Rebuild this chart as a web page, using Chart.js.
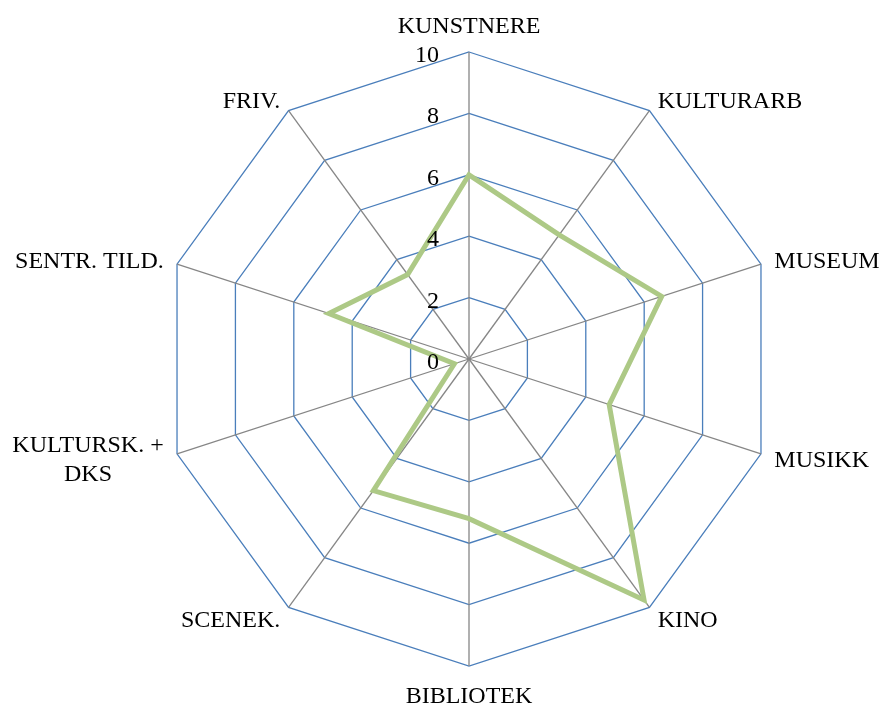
<!DOCTYPE html>
<html>
<head>
<meta charset="utf-8">
<script src="https://cdn.jsdelivr.net/npm/chart.js@4/dist/chart.umd.min.js"></script>
<style>
html,body{margin:0;padding:0;background:#ffffff;}
#wrap{width:880px;height:705px;position:relative;}
</style>
</head>
<body>
<div id="wrap"><canvas id="c"></canvas></div>
<script>
// ---- data ----
const categories = [
  'KUNSTNERE',
  'KULTURARB',
  'MUSEUM',
  'MUSIKK',
  'KINO',
  'BIBLIOTEK',
  'SCENEK.',
  ['KULTURSK. +', 'DKS'],
  'SENTR. TILD.',
  'FRIV.'
];
const seriesValues = [6, 5, 6.6, 4.8, 9.7, 5.2, 5.3, 0.5, 4.8, 3.4];
const tickValues = [0, 2, 4, 6, 8, 10];

// ---- label drawing (uses the radial scale's own geometry) ----
const FONT = '24px "Liberation Serif", "Times New Roman", serif';
const labelPlugin = {
  id: 'radarLabels',
  afterDatasetsDraw(chart) {
    const s = chart.scales.r;
    const ctx = chart.ctx;
    ctx.save();
    ctx.fillStyle = '#000000';
    ctx.font = FONT;
    ctx.textBaseline = 'alphabetic';

    // tick labels, right-aligned left of the vertical axis
    ctx.textAlign = 'right';
    tickValues.forEach(v => {
      const d = s.getDistanceFromCenterForValue(v);
      ctx.fillText(String(v), s.xCenter - 30, s.yCenter - d + 10);
    });

    // category labels
    const R = s.drawingArea;
    const lh = 29;
    categories.forEach((lab, i) => {
      const lines = Array.isArray(lab) ? lab : [lab];
      const p = s.getPointPosition(i, R + 14);
      const c = Math.cos(p.angle), sn = Math.sin(p.angle);
      const widths = lines.map(t => ctx.measureText(t).width);
      const maxW = Math.max(...widths);
      let cx;
      if (Math.abs(c) < 0.02) cx = p.x;
      else if (c > 0) cx = p.x + maxW / 2;
      else cx = p.x - maxW / 2;
      let firstBase;
      if (Math.abs(c) < 0.02 && sn < 0) {
        firstBase = p.y - 5 - (lines.length - 1) * lh;
      } else if (Math.abs(c) < 0.02 && sn > 0) {
        firstBase = p.y + 23;
      } else {
        firstBase = p.y - (lines.length - 1) * lh / 2 + 8.5;
      }
      ctx.textAlign = 'center';
      lines.forEach((t, k) => ctx.fillText(t, cx, firstBase + k * lh));
    });
    ctx.restore();
  }
};

new Chart(document.getElementById('c'), {
  type: 'radar',
  data: {
    labels: categories,
    datasets: [{
      data: seriesValues,
      borderColor: '#adc986',
      backgroundColor: 'rgba(0,0,0,0)',
      borderWidth: 5,
      borderJoinStyle: 'miter',
      pointRadius: 0,
      pointHoverRadius: 0,
      fill: false,
      tension: 0
    }]
  },
  options: {
    responsive: true,
    maintainAspectRatio: false,
    devicePixelRatio: 1,
    animation: false,
    events: [],
    layout: { padding: { left: 162, right: 104, top: 52, bottom: 39 } },
    plugins: {
      legend: { display: false },
      tooltip: { enabled: false },
      title: { display: false }
    },
    scales: {
      r: {
        min: 0,
        max: 10,
        beginAtZero: true,
        ticks: { stepSize: 2, display: false },
        pointLabels: { display: false },
        grid: { circular: false, color: '#4a7ebb', lineWidth: 1.3 },
        angleLines: { display: true, color: '#868686', lineWidth: 1.3 }
      }
    }
  },
  plugins: [labelPlugin]
});
</script>
</body>
</html>
